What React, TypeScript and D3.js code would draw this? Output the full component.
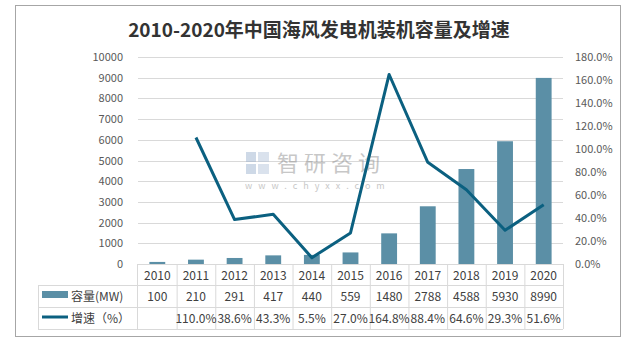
import React from "react";
import * as d3 from "d3";

const years = ["2010", "2011", "2012", "2013", "2014", "2015", "2016", "2017", "2018", "2019", "2020"];
const capacity = [100, 210, 291, 417, 440, 559, 1480, 2788, 4588, 5930, 8990];
const growth: (number | null)[] = [null, 110.0, 38.6, 43.3, 5.5, 27.0, 164.8, 88.4, 64.6, 29.3, 51.6];
const leftTicks = [0, 1000, 2000, 3000, 4000, 5000, 6000, 7000, 8000, 9000, 10000];
const rightTicks = [0, 20, 40, 60, 80, 100, 120, 140, 160, 180];

const W = 630;
const H = 340;
const plotL = 138;
const plotR = 563;
const plotT = 57;
const plotB = 264;
const legendL = 38;
const rowH = [264, 285, 307, 329];

const BAR = "#5b8fa6";
const LINE = "#0b6080";
const GRID = "#d9d9d9";
const TXT = "#404040";
const AX = "#595959";
const FONT = "'Noto Sans CJK SC', 'Noto Sans', sans-serif";

export default function App() {
  const x = d3.scaleBand<string>().domain(years).range([plotL, plotR]).paddingInner(0).paddingOuter(0);
  const yL = d3.scaleLinear().domain([0, 10000]).range([plotB, plotT]);
  const yR = d3.scaleLinear().domain([0, 180]).range([plotB, plotT]);
  const bw = x.bandwidth();
  const barW = bw * 0.41;

  const linePts = years
    .map((yr, i) => ({ yr, v: growth[i] }))
    .filter((d) => d.v !== null) as { yr: string; v: number }[];
  const lineGen = d3
    .line<{ yr: string; v: number }>()
    .x((d) => (x(d.yr) as number) + bw / 2)
    .y((d) => yR(d.v));

  return (
    <svg width={W} height={H} style={{ position: "absolute", left: 0, top: 0 }} fontFamily={FONT}>
      <rect x={0} y={0} width={W} height={H} fill="#fff" />
      <rect x={15.5} y={5.5} width={605} height={331} fill="none" stroke="#a6a6a6" strokeWidth={1} />
      <text x={319} y={37} textAnchor="middle" fontSize={19} fontWeight="bold" fill="#333">
        2010-2020年中国海风发电机装机容量及增速
      </text>

      {/* gridlines */}
      {leftTicks.map((t) => (
        <line key={"g" + t} x1={plotL} x2={plotR} y1={Math.round(yL(t)) + 0.5} y2={Math.round(yL(t)) + 0.5} stroke={GRID} strokeWidth={1} />
      ))}

      {/* left ticks */}
      {leftTicks.map((t) => (
        <text key={"l" + t} x={123} y={yL(t) + 4} textAnchor="end" fontSize={11} fill={AX}>
          {t}
        </text>
      ))}
      {/* right ticks */}
      {rightTicks.map((t) => (
        <text key={"r" + t} x={575} y={yR(t) + 4} textAnchor="start" fontSize={11} fill={AX}>
          {t.toFixed(1)}%
        </text>
      ))}

      {/* watermark */}
      <g opacity={0.5}>
        <rect x={246} y={152} width={10} height={10} fill="#9fb4d0" />
        <rect x={246} y={164} width={10} height={10} fill="#9fb4d0" />
        <rect x={258} y={152} width={11} height={10} fill="#b6c6dc" />
        <rect x={258} y={164} width={11} height={10} fill="#b6c6dc" />
        <text x={277} y={171} fontSize={22} fill="#909090" letterSpacing={5}>智研咨询</text>
        <text x={245} y={189} fontSize={9} fill="#909090" letterSpacing={6}>www.chyxx.com</text>
      </g>

      {/* bars */}
      {years.map((yr, i) => (
        <rect
          key={"b" + yr}
          x={(x(yr) as number) + bw / 2 - barW / 2}
          y={yL(capacity[i])}
          width={barW}
          height={plotB - yL(capacity[i])}
          fill={BAR}
        />
      ))}

      {/* line */}
      <path d={lineGen(linePts) || ""} fill="none" stroke={LINE} strokeWidth={3} strokeLinejoin="round" />

      {/* table */}
      <g stroke={GRID} strokeWidth={1}>
        {years.map((yr) => (
          <line key={"v" + yr} x1={(x(yr) as number) + bw + 0.5} x2={(x(yr) as number) + bw + 0.5} y1={rowH[0]} y2={rowH[3]} />
        ))}
        <line x1={plotL - 0.5} x2={plotL - 0.5} y1={rowH[0]} y2={rowH[3]} />
        <line x1={legendL + 0.5} x2={legendL + 0.5} y1={rowH[1]} y2={rowH[3]} />
        <line x1={legendL} x2={plotR} y1={rowH[1] + 0.5} y2={rowH[1] + 0.5} />
        <line x1={legendL} x2={plotR} y1={rowH[2] + 0.5} y2={rowH[2] + 0.5} />
        <line x1={legendL} x2={plotR} y1={rowH[3] + 0.5} y2={rowH[3] + 0.5} />
      </g>
      {years.map((yr, i) => {
        const cx = (x(yr) as number) + bw / 2;
        return (
          <g key={"t" + yr} fontSize={12} fill={TXT} textAnchor="middle">
            <text x={cx} y={280}>{yr}</text>
            <text x={cx} y={301}>{capacity[i]}</text>
            <text x={cx} y={323}>{growth[i] === null ? "" : (growth[i] as number).toFixed(1) + "%"}</text>
          </g>
        );
      })}
      {/* legend */}
      <rect x={42} y={291} width={26} height={7} fill={BAR} />
      <text x={71} y={301} fontSize={12} fill={TXT}>容量(MW)</text>
      <line x1={42} x2={68} y1={317} y2={317} stroke={LINE} strokeWidth={3} />
      <text x={71} y={323} fontSize={12} fill={TXT}>增速（%）</text>
    </svg>
  );
}
